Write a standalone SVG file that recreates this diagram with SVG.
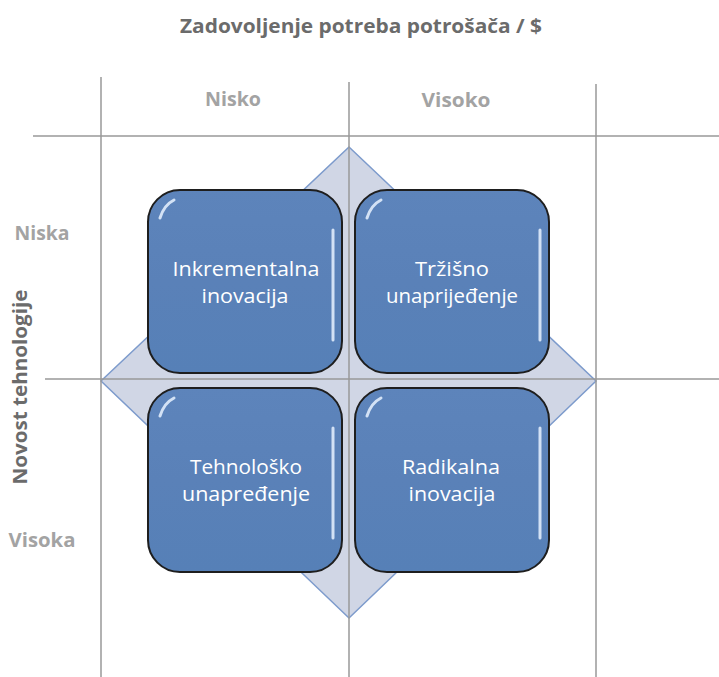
<svg xmlns="http://www.w3.org/2000/svg" width="719" height="677" viewBox="0 0 719 677">
<defs>
<style>
.grid{stroke:#999;stroke-width:1.5;fill:none}
.hdr{font-family:"Open Sans","Liberation Sans",sans-serif;font-weight:bold;fill:#a3a3a3;font-size:19px;text-anchor:middle}
.title{font-family:"Open Sans","Liberation Sans",sans-serif;font-weight:bold;fill:#6b6b6b;font-size:19px;text-anchor:middle}
.box{fill:url(#bg);stroke:#1e1e1e;stroke-width:2}
.hl{fill:none;stroke:#e8f2ff;stroke-width:3;stroke-linecap:round;opacity:0.85}
.lbl{font-family:"Open Sans","Liberation Sans",sans-serif;fill:#ffffff;font-size:19.5px;text-anchor:middle}
</style>
<linearGradient id="bg" x1="0" y1="0" x2="0" y2="1">
<stop offset="0" stop-color="#5d84bb"/>
<stop offset="0.5" stop-color="#5a81b8"/>
<stop offset="1" stop-color="#5680b7"/>
</linearGradient>
</defs>
<rect width="719" height="677" fill="#ffffff"/>
<g id="axes">
<text class="title" x="361" y="33" textLength="362" lengthAdjust="spacingAndGlyphs">Zadovoljenje potreba potrošača / $</text>
<text class="hdr" x="233" y="106" textLength="56" lengthAdjust="spacingAndGlyphs">Nisko</text>
<text class="hdr" x="456" y="107" textLength="69" lengthAdjust="spacingAndGlyphs">Visoko</text>
<text class="hdr" x="42" y="240" textLength="55" lengthAdjust="spacingAndGlyphs">Niska</text>
<text class="hdr" x="42" y="547" textLength="67" lengthAdjust="spacingAndGlyphs">Visoka</text>
<text class="title" transform="translate(27 387) rotate(-90)" textLength="195" lengthAdjust="spacingAndGlyphs">Novost tehnologije</text>
</g>
<g id="diamond">
<polygon points="349,147 596,381 349,618 101,381" fill="#d0d6e5" stroke="#7d9bcc" stroke-width="1.5"/>
</g>
<g id="connectors">
<line class="grid" x1="101" y1="77" x2="101" y2="677"/>
<line class="grid" x1="349" y1="82" x2="349" y2="677"/>
<line class="grid" x1="596" y1="84" x2="596" y2="677"/>
<line class="grid" x1="33" y1="136" x2="719" y2="136"/>
<line class="grid" x1="45" y1="379" x2="719" y2="379"/>
</g>
<g id="n1">
<rect class="box" x="148" y="190" width="194" height="183" rx="32"/>
<path class="hl" d="M160,218 Q164,205 174,200"/>
<path class="hl" d="M333,230 L333,340"/>
<text class="lbl" x="246" y="276" textLength="147" lengthAdjust="spacingAndGlyphs">Inkrementalna</text>
<text class="lbl" x="245" y="303" textLength="87" lengthAdjust="spacingAndGlyphs">inovacija</text>
</g>
<g id="n2">
<rect class="box" x="355" y="190" width="194" height="183" rx="32"/>
<path class="hl" d="M367,218 Q371,205 381,200"/>
<path class="hl" d="M540,230 L540,340"/>
<text class="lbl" x="452" y="276" textLength="74" lengthAdjust="spacingAndGlyphs">Tržišno</text>
<text class="lbl" x="452" y="303" textLength="132" lengthAdjust="spacingAndGlyphs">unaprijeđenje</text>
</g>
<g id="n3">
<rect class="box" x="148" y="388" width="194" height="184" rx="32"/>
<path class="hl" d="M160,416 Q164,403 174,398"/>
<path class="hl" d="M333,428 L333,538"/>
<text class="lbl" x="246" y="474" textLength="112" lengthAdjust="spacingAndGlyphs">Tehnološko</text>
<text class="lbl" x="246" y="501" textLength="128" lengthAdjust="spacingAndGlyphs">unapređenje</text>
</g>
<g id="n4">
<rect class="box" x="355" y="388" width="194" height="184" rx="32"/>
<path class="hl" d="M367,416 Q371,403 381,398"/>
<path class="hl" d="M540,428 L540,538"/>
<text class="lbl" x="451" y="474" textLength="98" lengthAdjust="spacingAndGlyphs">Radikalna</text>
<text class="lbl" x="452" y="501" textLength="87" lengthAdjust="spacingAndGlyphs">inovacija</text>
</g>
</svg>
